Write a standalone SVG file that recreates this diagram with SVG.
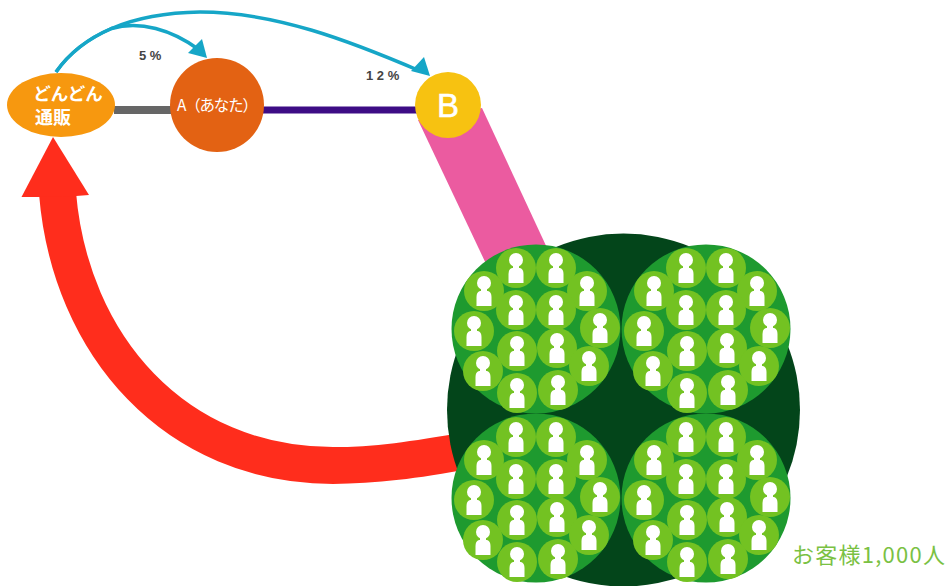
<svg xmlns="http://www.w3.org/2000/svg" width="949" height="586" viewBox="0 0 949 586">
<style>
.t{font-family:"Noto Sans CJK JP","Noto Sans",sans-serif}
.w{fill:#fff}
.pct{fill:#444;font-size:13px;font-weight:700;font-family:"Liberation Sans",sans-serif}
.arc{fill:none;stroke:#16a6c7;stroke-width:3.5}
.head{fill:#16a6c7}
.sm{fill:#73c222}
.pp{fill:#fff}
</style>
<defs>
<g id="person">
<circle class="sm" r="20"/>
<circle class="pp" cy="-8" r="7"/>
<path class="pp" d="M-3-2H3V0H4Q7.500 1 7.500 6V15H-7.500V6Q-7.500 1-4 0H-3Z"/>
</g>
<g id="cluster">
<circle cx="536" cy="329" r="84.500" fill="#1e9a2f"/>
<use href="#person" x="516" y="268"/>
<use href="#person" x="556" y="268"/>
<use href="#person" x="484" y="291"/>
<use href="#person" x="587" y="291"/>
<use href="#person" x="516" y="310"/>
<use href="#person" x="556" y="310"/>
<use href="#person" x="474" y="331"/>
<use href="#person" x="600" y="328"/>
<use href="#person" x="517" y="351"/>
<use href="#person" x="557" y="348"/>
<use href="#person" x="483" y="371"/>
<use href="#person" x="589" y="366"/>
<use href="#person" x="517" y="393"/>
<use href="#person" x="558" y="390"/>
</g>
</defs>
<rect width="949" height="586" fill="#fff"/>
<g id="connectors">
<path d="M114 110H175" stroke="#666" stroke-width="8" fill="none"/>
<path d="M260 110H420" stroke="#3d0c85" stroke-width="7" fill="none"/>
<path d="M418 120L482 108L548 250L488 268Z" fill="#eb5ba0"/>
<path d="M57.500 193C70 345 175 465.500 333 465.500C375 465.500 415 460 470 450" fill="none" stroke="#ff2d1c" stroke-width="37"/>
<path d="M53 137L89 195L76 196L38 197H21.500Z" fill="#ff2d1c"/>
<path class="arc" d="M56 72C69 53.500 87.500 38.750 111.500 28.500C140 20 172 30 198 49"/>
<path class="head" d="M207 58L188 53L202 39Z"/>
<path class="arc" d="M56 72C82 35 130 13 200 12C275 12 350 41 420 71"/>
<path class="head" d="M430 76L411 71L424 57Z"/>
</g>
<g id="customers">
<circle cx="623.500" cy="410" r="176.500" fill="#03451a"/>
<use href="#cluster"/>
<use href="#cluster" x="170"/>
<use href="#cluster" y="169"/>
<use href="#cluster" x="170" y="169"/>
</g>
<g id="node-dondon">
<ellipse cx="61" cy="105" rx="54" ry="32" fill="#f7980f"/>
<text class="t w" x="68" y="100" font-size="17.500" font-weight="700" text-anchor="middle">どんどん</text>
<text class="t w" x="53" y="124" font-size="18" font-weight="700" text-anchor="middle">通販</text>
</g>
<g id="node-a">
<circle cx="217" cy="105" r="47" fill="#e36213"/>
<text class="t w" x="177" y="111" font-size="15.500" textLength="81">A（あなた）</text>
</g>
<g id="node-b">
<circle cx="448" cy="105" r="33" fill="#f7c211"/>
<text x="448" y="117" font-size="33" fill="#fff" stroke="#fff" stroke-width="0.6" font-family="Liberation Sans, sans-serif" text-anchor="middle">B</text>
</g>
<g id="labels">
<text class="pct" x="139" y="60">5 %</text>
<text class="pct" x="366" y="80">1 2 %</text>
<text class="t" x="792" y="563" font-size="22" fill="#7ac143" textLength="153">お客様1,000人</text>
</g>
</svg>
